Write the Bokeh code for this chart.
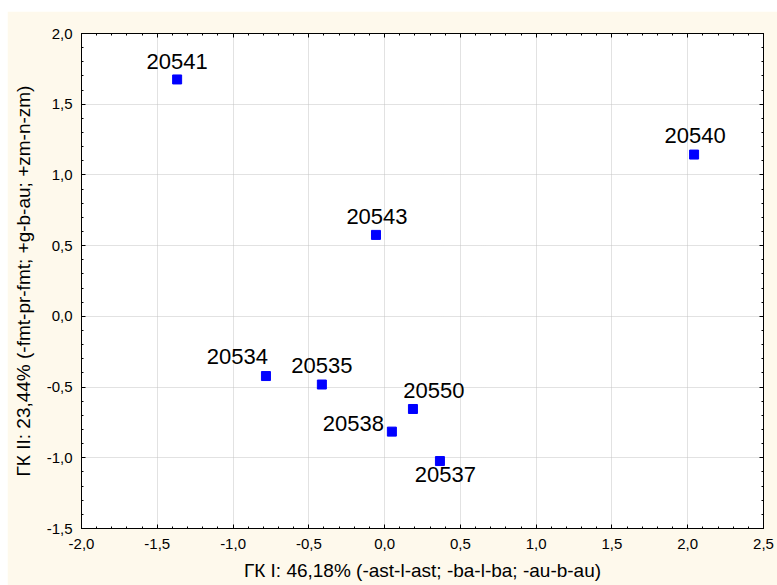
from bokeh.plotting import figure
from bokeh.models import FixedTicker, LinearAxis, Range1d, CustomJSTickFormatter, ColumnDataSource
from bokeh.core.properties import value
from bokeh.embed import file_html
from bokeh.resources import INLINE

# ---- data ----
ids = ["20541", "20540", "20543", "20534", "20535", "20550", "20538", "20537"]
pc1 = [-1.369, 2.042, -0.057, -0.783, -0.414, 0.187, 0.048, 0.365]
pc2 = [1.675, 1.144, 0.576, -0.422, -0.482, -0.655, -0.815, -1.023]

x_ticks = [-2.0, -1.5, -1.0, -0.5, 0.0, 0.5, 1.0, 1.5, 2.0, 2.5]
x_tick_labels = ["-2,0", "-1,5", "-1,0", "-0,5", "0,0", "0,5", "1,0", "1,5", "2,0", "2,5"]
y_ticks = [-1.5, -1.0, -0.5, 0.0, 0.5, 1.0, 1.5, 2.0]
y_tick_labels = ["-1,5", "-1,0", "-0,5", "0,0", "0,5", "1,0", "1,5", "2,0"]

x_title = "ГК I: 46,18% (-ast-l-ast; -ba-l-ba; -au-b-au)"
y_title = "ГК II: 23,44% (-fmt-pr-fmt; +g-b-au; +zm-n-zm)"

# label placement (screen pixel offsets, styling only)
lab_dx = [0, 1, 1, -28.5, 0, 21, -38.5, 5.5]
lab_dy = [-18, -19, -18.5, -19.5, -19, -18.5, -8.5, 13.5]

FONT = "Liberation Sans"
CREAM = "#FEF9EC"

x_minor = [round(-2.0 + 0.1 * i, 1) for i in range(46)]
y_minor = [round(-1.5 + 0.1 * i, 1) for i in range(36)]

p = figure(width=770, height=574, output_backend="svg", toolbar_location=None,
           x_range=Range1d(-2.0, 2.5), y_range=Range1d(-1.5, 2.0),
           x_axis_label=x_title, y_axis_label=y_title,
           min_border_left=74, min_border_top=22, min_border_right=14, min_border_bottom=57)
p.margin = (11, 0, 0, 7)

p.border_fill_color = CREAM
p.background_fill_color = "white"
p.outline_line_color = "black"
p.outline_line_width = 1

xt = FixedTicker(ticks=x_ticks, minor_ticks=x_minor)
yt = FixedTicker(ticks=y_ticks, minor_ticks=y_minor)

def style_axis(ax, ticker, labels=None):
    ax.ticker = ticker
    ax.axis_line_color = "black"
    ax.major_tick_line_color = "black"
    ax.minor_tick_line_color = "black"
    ax.major_tick_in = 4
    ax.major_tick_out = 0
    ax.minor_tick_in = 2
    ax.minor_tick_out = 0
    ax.major_label_text_font = FONT
    ax.major_label_text_font_size = "15px"
    ax.major_label_text_color = "black"
    ax.axis_label_text_font = FONT
    ax.axis_label_text_font_size = "19px"
    ax.axis_label_text_font_style = "normal"
    ax.axis_label_text_color = "black"
    if labels is not None:
        ax.major_label_overrides = labels

style_axis(p.xaxis[0], xt, {t: l for t, l in zip(x_ticks, x_tick_labels)})
style_axis(p.yaxis[0], yt, {t: l for t, l in zip(y_ticks, y_tick_labels)})
p.xaxis[0].major_label_standoff = 10
p.xaxis[0].axis_label_standoff = 8
p.yaxis[0].major_label_standoff = 9
p.yaxis[0].axis_label_standoff = 10

empty = CustomJSTickFormatter(code="return ''")
top = LinearAxis(formatter=empty)
style_axis(top, xt)
top.major_label_standoff = 0
right = LinearAxis(formatter=empty)
style_axis(right, yt)
right.major_label_standoff = 0
p.add_layout(top, "above")
p.add_layout(right, "right")

for g in (p.xgrid[0], p.ygrid[0]):
    g.grid_line_color = "#C4C4C4"
    g.grid_line_dash = "1 1"
    g.grid_line_width = 1
p.xgrid[0].ticker = xt
p.ygrid[0].ticker = yt

src = ColumnDataSource(dict(x=pc1, y=pc2, name=ids, dx=lab_dx, dy=lab_dy))
p.scatter("x", "y", source=src, marker="square", size=9, fill_color="#0000FF", line_color="#0000FF")
p.text("x", "y", text="name", source=src, x_offset="dx", y_offset="dy",
       text_align="center", text_baseline="alphabetic",
       text_font=value(FONT), text_font_size="22px", text_color="black")

open("out.html", "w").write(file_html(p, INLINE))
